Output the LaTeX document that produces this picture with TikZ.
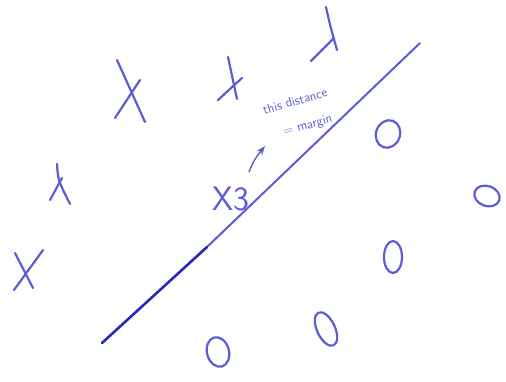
\documentclass[tikz,border=0pt]{standalone}
\usetikzlibrary{arrows.meta}
\definecolor{pen}{RGB}{92,92,212}
\definecolor{darkpen}{RGB}{40,40,190}

\begin{document}
\begin{tikzpicture}[
    x=1pt, y=-1pt,
    every node/.style={font=\sffamily, text=pen},
    stroke/.style={pen, line width=2.2pt, line cap=round},
    note/.style={font=\sffamily\fontsize{13}{13}\selectfont, rotate=16, inner sep=0pt},
    >=Stealth,
]
\useasboundingbox (0,0) rectangle (506,381);

% === Separating line ===
\draw[pen, line width=2pt, line cap=round] (207,247) -- (420,43);
\draw[darkpen, line width=2.6pt, line cap=round] (102,343) -- (207,247);

% === X class ===
\draw[stroke] (117,60) -- (145,122);
\draw[stroke] (115,118) -- (140,80);
\draw[stroke] (228,57) -- (237,99);
\draw[stroke] (218,100) -- (242,78);
\draw[stroke] (326,7) .. controls (330,25) .. (337,50);
\draw[stroke] (311,61) -- (334,38);
\draw[stroke] (57,164) .. controls (58,180) .. (70,204);
\draw[stroke] (50,200) -- (62,178);
\draw[stroke] (15,253) -- (33,288);
\draw[stroke] (14,290) -- (43,250);

% === O class ===
\draw[stroke, rotate around={-20:(388,134)}] (388,134) ellipse (12 and 14);
\draw[stroke, rotate around={-20:(487,196)}] (487,196) ellipse (13 and 10);
\draw[stroke] (393,257) ellipse (9 and 16);
\draw[stroke, rotate around={25:(326,329)}] (326,329) ellipse (9 and 18);
\draw[stroke, rotate around={15:(218,352)}] (218,352) ellipse (11 and 15);

% === Support vector and margin note ===
\node[font=\sffamily\fontsize{34}{34}\selectfont] (x3) at (231,199) {X3};
\node[note] (dist) at (295,101) {this distance};
\node[note] (margin) at (308,126) {= margin};
\coordinate (a0) at (249,172);
\coordinate (a1) at (265,146);
\draw[->, pen, line width=1.4pt] (a0) .. controls (254,160) .. (a1);

\end{tikzpicture}
\end{document}
